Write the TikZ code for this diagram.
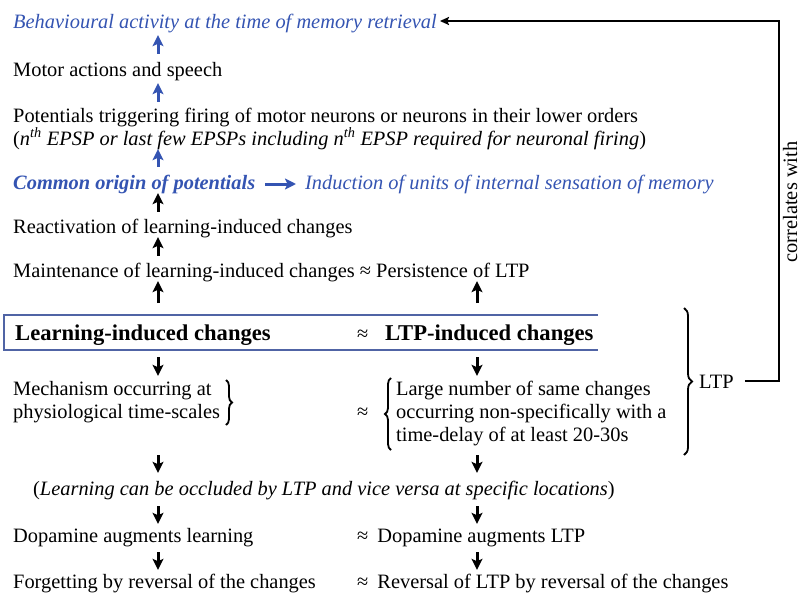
\documentclass[tikz,border=0pt]{standalone}
\usepackage{fontspec}
\setmainfont{Liberation Serif}
\usetikzlibrary{arrows.meta,decorations.pathreplacing,calc}
\definecolor{blueT}{RGB}{52,84,178}
\definecolor{boxB}{RGB}{80,100,165}
\begin{document}
\begin{tikzpicture}[x=1pt,y=-1pt,
  txt/.style={anchor=base west,inner sep=0pt,text height=14pt,text depth=4pt,font=\fontsize{20.4}{24}\selectfont},
  btxt/.style={txt,text=blueT},
  boldtxt/.style={anchor=base west,inner sep=0pt,text height=15pt,text depth=4pt,font=\fontsize{22.6}{26}\selectfont\bfseries},
  arr/.style={line width=3pt,-{Stealth[length=11pt,width=11pt,inset=2.5pt]}},
  barr/.style={arr,draw=blueT,color=blueT},
  brc/.style={decorate,decoration={brace,amplitude=#1},line width=1.8pt},
  conn/.style={line width=2.8pt}
]
\useasboundingbox (0,0) rectangle (803,594);
\coordinate (cL) at (158,0);
\coordinate (cR) at (477,0);
\coordinate (cX) at (779,0);

% rows
\node[btxt] (behav) at (13,29) {\itshape Behavioural activity at the time of memory retrieval};
\node[txt] (motor) at (13,77) {Motor actions and speech};
\node[txt] (pot) at (13,122) {Potentials triggering firing of motor neurons or neurons in their lower orders};
\node[txt] (nth) at (13,145) {(\textit{n\textsuperscript{th} EPSP or last few EPSPs including n\textsuperscript{th} EPSP required for neuronal firing})};
\node[btxt] (common) at (13,189) {\bfseries\itshape Common origin of potentials};
\node[btxt] (induct) at (305,189) {\itshape Induction of units of internal sensation of memory};
\node[txt] (react) at (13,233) {Reactivation of learning-induced changes};
\node[txt] (maint) at (13,277) {Maintenance of learning-induced changes ≈ Persistence of LTP};

% box
\coordinate (boxTL) at (4,315);
\coordinate (boxBR) at (598,350);
\draw[boxB,line width=1.4pt] (boxBR |- boxTL) -- (boxTL) -- (boxTL |- boxBR) -- (boxBR);
\node[boldtxt] (lic) at (15,340) {Learning-induced changes};
\node[txt] (apx0) at (357,340) {≈};
\node[boldtxt] (ltpic) at (385,340) {LTP-induced changes};

\node[txt] (mech1) at (13,395) {Mechanism occurring at};
\node[txt] (mech2) at (13,418) {physiological time-scales};
\node[txt] (apx1) at (357,418) {≈};
\node[txt] (large1) at (396,395) {Large number of same changes};
\node[txt] (large2) at (396,418) {occurring non-specifically with a};
\node[txt] (large3) at (396,441) {time-delay of at least 20-30s};

\node[txt] (occl) at (33,495) {(\textit{Learning can be occluded by LTP and vice versa at specific locations})};
\node[txt] (dop1) at (13,542) {Dopamine augments learning};
\node[txt] (dop2) at (357,542) {≈\hspace{9pt}Dopamine augments LTP};
\node[txt] (forg1) at (13,588) {Forgetting by reversal of the changes};
\node[txt] (forg2) at (357,588) {≈\hspace{9pt}Reversal of LTP by reversal of the changes};

\node[txt] (ltp) at (699,388) {LTP};
\node[txt,anchor=base,rotate=90] (corr) at (797,202) {correlates with};

% braces
\draw[brc=6pt] (226,380) -- (226,425);
\draw[brc=6pt] (391,450) -- (391,378);
\draw[brc=8pt] (684,308) -- (684,455);

% blue up arrows
\draw[barr,shorten <=9pt,shorten >=2pt] (motor.north -| cL) -- (behav.south -| cL);
\draw[barr,shorten <=6pt,shorten >=2pt] (pot.north -| cL) -- (motor.south -| cL);
\draw[barr,shorten <=8pt,shorten >=0pt] (common.north -| cL) -- (nth.south -| cL);
\draw[barr] ([xshift=10pt]common.east) -- ([xshift=-9pt]induct.west);

% black up arrows
\draw[arr,shorten <=7pt,shorten >=0pt] (react.north -| cL) -- (common.south -| cL);
\draw[arr,shorten <=7pt,shorten >=0pt] (maint.north -| cL) -- (react.south -| cL);
\draw[arr,shorten <=12pt,shorten >=0pt] (boxTL -| cL) -- (maint.south -| cL);
\draw[arr,shorten <=12pt,shorten >=0pt] (boxTL -| cR) -- (maint.south -| cR);

% black down arrows
\draw[arr,shorten <=7pt,shorten >=5pt] (boxBR -| cL) -- (mech1.north -| cL);
\draw[arr,shorten <=7pt,shorten >=5pt] (boxBR -| cR) -- (large1.north -| cR);
\draw[arr,shorten <=10pt,shorten >=8pt] (large3.south -| cL) -- (occl.north -| cL);
\draw[arr,shorten <=10pt,shorten >=8pt] (large3.south -| cR) -- (occl.north -| cR);
\draw[arr,shorten <=7pt,shorten >=4pt] (occl.south -| cL) -- (dop1.north -| cL);
\draw[arr,shorten <=7pt,shorten >=4pt] (occl.south -| cR) -- (dop2.north -| cR);
\draw[arr,shorten <=6pt,shorten >=4pt] (dop1.south -| cL) -- (forg1.north -| cL);
\draw[arr,shorten <=6pt,shorten >=4pt] (dop2.south -| cR) -- (forg2.north -| cR);

% correlates-with connector
\draw[conn,-{Stealth[length=9pt,width=8pt,inset=1.5pt]}] ([xshift=11pt,yshift=2pt]ltp.east) -- ([yshift=2pt]ltp.east -| cX) -- ([yshift=3pt]behav.east -| cX) -- ([xshift=3pt,yshift=3pt]behav.east);
\end{tikzpicture}
\end{document}
